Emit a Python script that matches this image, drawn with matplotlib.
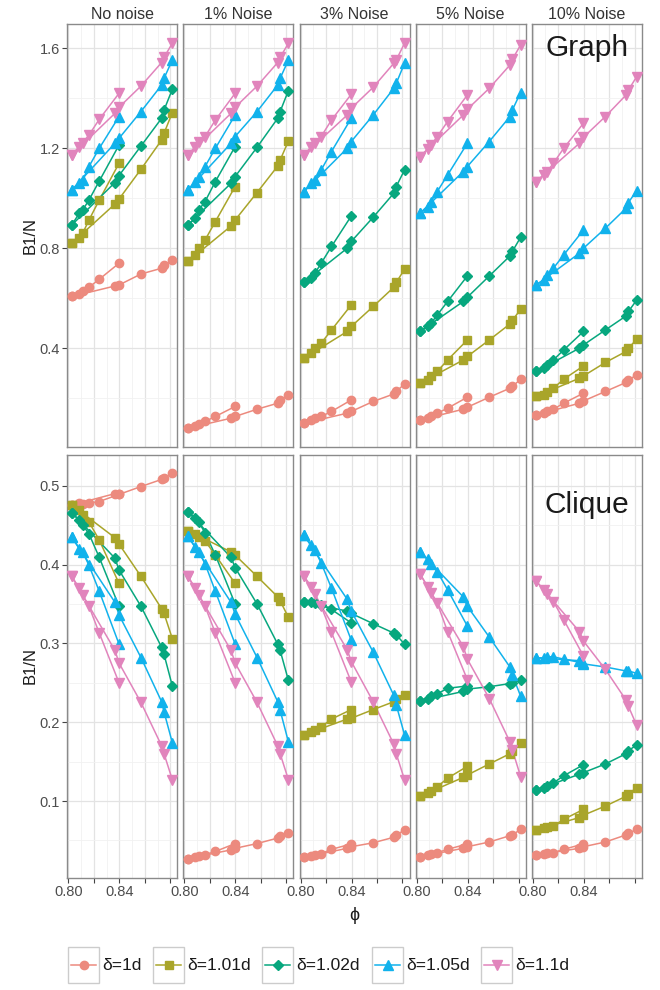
import matplotlib
matplotlib.use("Agg")
import matplotlib.pyplot as plt
from matplotlib.patches import Rectangle
from matplotlib.ticker import FixedLocator

plt.rcParams['font.family'] = ['Liberation Sans', 'DejaVu Sans']

# phi values: steep branch (a) and long branch (b, starts at the same first point)
phi_a = [0.8027, 0.8086, 0.8113, 0.8162, 0.8243, 0.8398]
phi_b = [0.8027, 0.8366, 0.8398, 0.8570, 0.8732, 0.8751, 0.8816]

deltas = ['δ=1d', 'δ=1.01d', 'δ=1.02d', 'δ=1.05d', 'δ=1.1d']
noise_levels = ['No noise', '1% Noise', '3% Noise', '5% Noise', '10% Noise']

# Graph (top row), one list per delta, branch a and branch b (b without shared start)
graph_0_a = [[0.607, 0.617, 0.627, 0.644, 0.676, 0.740],
             [0.820, 0.840, 0.860, 0.913, 0.993, 1.140],
             [0.893, 0.940, 0.953, 0.993, 1.069, 1.213],
             [1.033, 1.060, 1.073, 1.127, 1.200, 1.327],
             [1.173, 1.207, 1.223, 1.253, 1.316, 1.420]]
graph_0_b = [[0.649, 0.653, 0.697, 0.720, 0.731, 0.751],
             [0.977, 0.997, 1.116, 1.233, 1.260, 1.343],
             [1.063, 1.091, 1.209, 1.320, 1.353, 1.436],
             [1.220, 1.240, 1.347, 1.453, 1.480, 1.553],
             [1.340, 1.364, 1.449, 1.543, 1.564, 1.620]]
graph_1_a = [[0.080, 0.087, 0.097, 0.107, 0.127, 0.167],
             [0.747, 0.773, 0.800, 0.833, 0.907, 1.047],
             [0.893, 0.920, 0.953, 0.987, 1.067, 1.207],
             [1.033, 1.067, 1.087, 1.127, 1.200, 1.333],
             [1.173, 1.207, 1.227, 1.247, 1.313, 1.420]]
graph_1_b = [[0.120, 0.127, 0.156, 0.180, 0.193, 0.213],
             [0.889, 0.913, 1.023, 1.129, 1.153, 1.229],
             [1.060, 1.087, 1.204, 1.320, 1.347, 1.431],
             [1.220, 1.247, 1.347, 1.453, 1.480, 1.553],
             [1.340, 1.364, 1.449, 1.543, 1.564, 1.620]]
graph_3_a = [[0.100, 0.111, 0.120, 0.127, 0.147, 0.193],
             [0.360, 0.380, 0.400, 0.420, 0.473, 0.573],
             [0.663, 0.680, 0.700, 0.740, 0.807, 0.929],
             [1.027, 1.060, 1.073, 1.113, 1.187, 1.320],
             [1.173, 1.207, 1.220, 1.247, 1.313, 1.416]]
graph_3_b = [[0.140, 0.147, 0.187, 0.217, 0.227, 0.257],
             [0.467, 0.487, 0.567, 0.644, 0.663, 0.716],
             [0.800, 0.827, 0.924, 1.020, 1.047, 1.113],
             [1.200, 1.227, 1.333, 1.440, 1.460, 1.540],
             [1.333, 1.360, 1.444, 1.540, 1.553, 1.620]]
graph_5_a = [[0.113, 0.120, 0.129, 0.140, 0.160, 0.204],
             [0.260, 0.273, 0.287, 0.307, 0.353, 0.433],
             [0.467, 0.487, 0.500, 0.533, 0.587, 0.689],
             [0.940, 0.967, 0.987, 1.027, 1.093, 1.220],
             [1.167, 1.196, 1.213, 1.247, 1.307, 1.413]]
graph_5_b = [[0.156, 0.164, 0.204, 0.240, 0.247, 0.276],
             [0.353, 0.367, 0.433, 0.497, 0.511, 0.556],
             [0.587, 0.604, 0.689, 0.769, 0.787, 0.844],
             [1.107, 1.127, 1.227, 1.327, 1.353, 1.423],
             [1.333, 1.356, 1.440, 1.533, 1.556, 1.613]]
graph_10_a = [[0.133, 0.140, 0.147, 0.156, 0.180, 0.220],
              [0.207, 0.213, 0.223, 0.240, 0.276, 0.329],
              [0.307, 0.320, 0.333, 0.353, 0.393, 0.467],
              [0.653, 0.673, 0.693, 0.720, 0.773, 0.873],
              [1.067, 1.093, 1.107, 1.140, 1.200, 1.300]]
graph_10_b = [[0.180, 0.189, 0.227, 0.263, 0.273, 0.293],
              [0.280, 0.289, 0.343, 0.387, 0.400, 0.436],
              [0.400, 0.413, 0.473, 0.529, 0.547, 0.593],
              [0.780, 0.800, 0.880, 0.960, 0.983, 1.031],
              [1.220, 1.244, 1.327, 1.413, 1.433, 1.487]]

# Clique (bottom row)
clique_0_a = [[0.4755, 0.4776, 0.477, 0.478, 0.480, 0.489],
              [0.4755, 0.469, 0.463, 0.454, 0.431, 0.376],
              [0.466, 0.456, 0.450, 0.439, 0.409, 0.347],
              [0.435, 0.420, 0.416, 0.399, 0.366, 0.299],
              [0.385, 0.370, 0.361, 0.347, 0.313, 0.250]]
clique_0_b = [[0.490, 0.489, 0.499, 0.508, 0.510, 0.516],
              [0.434, 0.426, 0.385, 0.344, 0.338, 0.306],
              [0.408, 0.393, 0.347, 0.295, 0.286, 0.246],
              [0.352, 0.336, 0.282, 0.226, 0.213, 0.174],
              [0.291, 0.275, 0.225, 0.170, 0.160, 0.127]]
clique_1_a = [[0.027, 0.029, 0.030, 0.032, 0.036, 0.046],
              [0.443, 0.439, 0.435, 0.430, 0.412, 0.376],
              [0.467, 0.459, 0.454, 0.440, 0.412, 0.350],
              [0.436, 0.422, 0.416, 0.401, 0.366, 0.299],
              [0.385, 0.370, 0.361, 0.347, 0.313, 0.250]]
clique_1_b = [[0.038, 0.040, 0.046, 0.053, 0.055, 0.059],
              [0.416, 0.412, 0.385, 0.359, 0.354, 0.333],
              [0.409, 0.396, 0.350, 0.299, 0.291, 0.253],
              [0.352, 0.337, 0.282, 0.226, 0.215, 0.175],
              [0.291, 0.275, 0.225, 0.170, 0.160, 0.127]]
clique_3_a = [[0.0285, 0.030, 0.0315, 0.0334, 0.0387, 0.0455],
              [0.184, 0.188, 0.190, 0.194, 0.204, 0.216],
              [0.352, 0.352, 0.351, 0.349, 0.343, 0.326],
              [0.437, 0.425, 0.418, 0.402, 0.370, 0.304],
              [0.385, 0.372, 0.363, 0.347, 0.314, 0.251]]
clique_3_b = [[0.040, 0.042, 0.047, 0.054, 0.057, 0.063],
              [0.204, 0.205, 0.216, 0.226, 0.229, 0.234],
              [0.341, 0.338, 0.325, 0.313, 0.311, 0.299],
              [0.356, 0.341, 0.289, 0.234, 0.222, 0.184],
              [0.292, 0.277, 0.226, 0.172, 0.160, 0.127]]
clique_5_a = [[0.0294, 0.0315, 0.0328, 0.0345, 0.0387, 0.0455],
              [0.106, 0.110, 0.113, 0.118, 0.129, 0.144],
              [0.227, 0.230, 0.233, 0.236, 0.243, 0.246],
              [0.416, 0.407, 0.401, 0.391, 0.368, 0.322],
              [0.388, 0.372, 0.364, 0.351, 0.315, 0.254]]
clique_5_b = [[0.040, 0.042, 0.048, 0.056, 0.057, 0.064],
              [0.130, 0.133, 0.147, 0.160, 0.163, 0.173],
              [0.239, 0.242, 0.245, 0.249, 0.250, 0.254],
              [0.359, 0.347, 0.308, 0.270, 0.260, 0.233],
              [0.296, 0.280, 0.230, 0.175, 0.165, 0.131]]
clique_10_a = [[0.0315, 0.0328, 0.0336, 0.0345, 0.0387, 0.0455],
               [0.0632, 0.0653, 0.0666, 0.0683, 0.0767, 0.0894],
               [0.114, 0.116, 0.119, 0.123, 0.132, 0.146],
               [0.282, 0.281, 0.283, 0.283, 0.280, 0.275],
               [0.379, 0.368, 0.363, 0.353, 0.330, 0.284]]
clique_10_b = [[0.040, 0.042, 0.048, 0.057, 0.059, 0.064],
               [0.079, 0.082, 0.0936, 0.106, 0.109, 0.117],
               [0.134, 0.136, 0.147, 0.160, 0.164, 0.171],
               [0.278, 0.274, 0.270, 0.265, 0.265, 0.262],
               [0.315, 0.303, 0.267, 0.228, 0.220, 0.196]]

graph_panels = [(graph_0_a, graph_0_b), (graph_1_a, graph_1_b), (graph_3_a, graph_3_b),
                (graph_5_a, graph_5_b), (graph_10_a, graph_10_b)]
clique_panels = [(clique_0_a, clique_0_b), (clique_1_a, clique_1_b), (clique_3_a, clique_3_b),
                 (clique_5_a, clique_5_b), (clique_10_a, clique_10_b)]

colors = ['#EC8A7E', '#A9A52A', '#07A77E', '#11B2EC', '#E184BC']
markers = ['o', 's', 'D', '^', 'v']
msizes = [6.0, 5.6, 4.8, 7.0, 7.0]

W, H = 660, 990
fig = plt.figure(figsize=(W / 100, H / 100), dpi=100)


def box(l, t, w, h):
    return [l / W, 1 - (t + h) / H, w / W, h / H]


def draw_panel(ax, series_a, series_b):
    for i in range(len(deltas)):
        ya = series_a[i]
        yb = [ya[0]] + series_b[i]
        ax.plot(phi_a, ya, color=colors[i], lw=1.1, zorder=2)
        ax.plot(phi_b, yb, color=colors[i], lw=1.1, zorder=2)
    for i in range(len(deltas)):
        ya = series_a[i]
        yb = [ya[0]] + series_b[i]
        ax.plot(phi_a + phi_b, ya + yb, ls='none', marker=markers[i], ms=msizes[i],
                color=colors[i], mec=colors[i], zorder=3)


def style_axes(ax, ylim, ymajor, yminor, col, bottom):
    ax.set_xlim(0.7992, 0.8855)
    ax.set_ylim(*ylim)
    ax.xaxis.set_major_locator(FixedLocator([0.80, 0.82, 0.84, 0.86, 0.88]))
    ax.xaxis.set_minor_locator(FixedLocator([0.81, 0.83, 0.85, 0.87]))
    ax.yaxis.set_major_locator(FixedLocator(ymajor))
    ax.yaxis.set_minor_locator(FixedLocator(yminor))
    ax.grid(which='major', color='#E3E3E3', lw=0.9)
    ax.grid(which='minor', color='#F1F1F1', lw=0.6)
    ax.set_axisbelow(True)
    for s in ax.spines.values():
        s.set_color('#8A8A8A')
        s.set_linewidth(1.0)
    ax.tick_params(which='minor', length=0)
    ax.tick_params(which='major', length=3.5, width=0.8, color='#444444',
                   labelcolor='#4D4D4D', labelsize=10.5, pad=2)
    if bottom:
        ax.set_xticklabels(['0.80', '', '0.84', '', ''])
    else:
        ax.tick_params(axis='x', length=0, labelbottom=False)
    if col == 0:
        ax.set_yticklabels([('%.1f' % v) for v in ymajor])
    else:
        ax.tick_params(axis='y', length=0, labelleft=False)


lefts = [67.3 + i * 116.1 for i in range(5)]
for col in range(5):
    ax = fig.add_axes(box(lefts[col], 24.3, 110, 422.4))
    draw_panel(ax, *graph_panels[col])
    style_axes(ax, (0.006, 1.696), [0.4, 0.8, 1.2, 1.6], [0.2, 0.6, 1.0, 1.4], col, False)
    ax.set_title(noise_levels[col], fontsize=11.5, color='#333333', pad=4)
    if col == 4:
        ax.text(0.5, 0.944, 'Graph', transform=ax.transAxes, ha='center', va='center',
                fontsize=21.5, color='#1A1A1A')

    ax = fig.add_axes(box(lefts[col], 455, 110, 422.7))
    draw_panel(ax, *clique_panels[col])
    style_axes(ax, (0.0027, 0.539), [0.1, 0.2, 0.3, 0.4, 0.5],
               [0.05, 0.15, 0.25, 0.35, 0.45], col, True)
    if col == 4:
        ax.text(0.5, 0.882, 'Clique', transform=ax.transAxes, ha='center', va='center',
                fontsize=21.5, color='#1A1A1A')

fig.text(30 / W, 1 - 235 / H, 'B1/N', rotation=90, ha='center', va='center',
         fontsize=12, color='#1A1A1A')
fig.text(30 / W, 1 - 666 / H, 'B1/N', rotation=90, ha='center', va='center',
         fontsize=12, color='#1A1A1A')
fig.text(354.5 / W, 1 - 916 / H, 'ϕ', ha='center', va='center', fontsize=13, color='#1A1A1A')

# legend drawn as ggplot-style key boxes
lax = fig.add_axes([0, 0, 1, 1])
lax.set_xlim(0, W)
lax.set_ylim(H, 0)
lax.axis('off')
key_lefts = [68, 153, 262, 372, 481]
for i in range(len(deltas)):
    x0 = key_lefts[i]
    lax.add_patch(Rectangle((x0, 947), 31, 36, fc='white', ec='#CCCCCC', lw=1.0))
    lax.plot([x0 + 3, x0 + 28], [965, 965], color=colors[i], lw=1.1)
    lax.plot([x0 + 15.5], [965], marker=markers[i], ms=msizes[i], color=colors[i], ls='none')
    lax.text(x0 + 34, 966, deltas[i], ha='left', va='center', fontsize=12.5, color='#1A1A1A')

fig.savefig('out.png', dpi=100)
